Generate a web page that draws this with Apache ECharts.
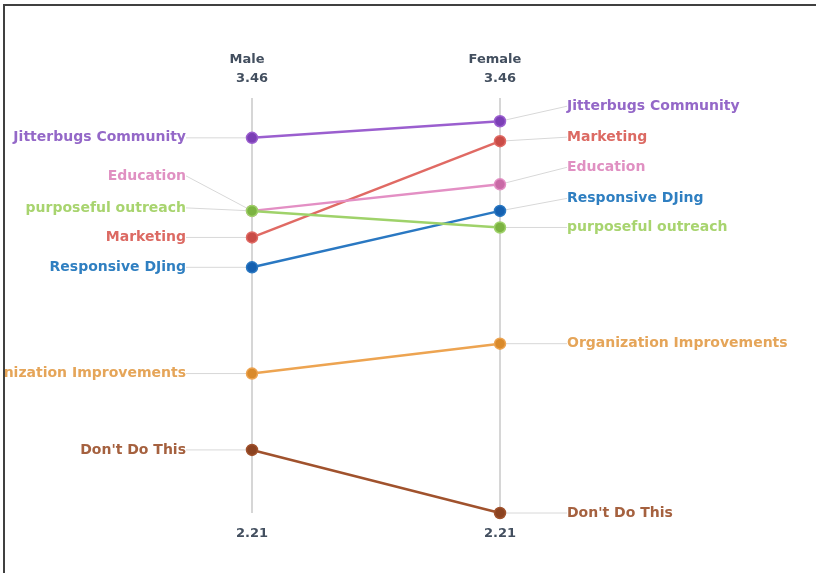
<!DOCTYPE html>
<html>
<head>
<meta charset="utf-8">
<script src="https://cdn.jsdelivr.net/npm/echarts@6/dist/echarts.min.js"></script>
<style>
  html, body { margin: 0; padding: 0; background: #fff; width: 816px; height: 573px; overflow: hidden; }
  #frame { position: absolute; left: 3px; top: 4px; width: 900px; height: 700px; border-left: 2px solid #404040; border-top: 2px solid #404040; }
  #chart { position: absolute; left: 5px; top: 0; width: 811px; height: 573px; }
</style>
</head>
<body>
<div id="frame"></div>
<div id="chart"></div>
<script>
// ---- data ----
var groups = ['Male', 'Female'];
var categories = ['Jitterbugs Community', 'Marketing', 'Education', 'Responsive DJing', 'purposeful outreach', 'Organization Improvements', "Don't Do This"];
var maleValues   = [3.34, 3.04, 3.12, 2.95, 3.12, 2.63, 2.40];
var femaleValues = [3.39, 3.33, 3.20, 3.12, 3.07, 2.72, 2.21];
var topTickLabels = ['3.46', '3.46'];
var bottomTickLabels = ['2.21', '2.21'];
var axisMax = 3.46;
var axisMin = 2.21;

// ---- styles ----
var lineColors  = ['#9b5fcf', '#e06a64', '#e38fc4', '#2a78c2', '#9fd26a', '#eda451', '#a0522d'];
var dotColors   = ['#7b3fb5', '#c94c47', '#c96aa6', '#1560b0', '#7cb342', '#d98a2b', '#8b4220'];
var labelColors = ['#9468c8', '#dc6a63', '#e090c2', '#2f7fc1', '#a8d46f', '#e5a559', '#a5613f'];
// label vertical nudges (px) to reproduce the reference label distribution
var labelNudge = {
  left:  { 'Education': -35, 'purposeful outreach': -3 },
  right: { 'Jitterbugs Community': -15, 'Marketing': -4, 'Education': -17, 'Responsive DJing': -12.5 }
};
var FONT = 'DejaVu Sans';
var axisTextColor = '#434f5f';

var series = categories.map(function (name, i) {
  return {
    type: 'line',
    name: name,
    data: [maleValues[i], femaleValues[i]],
    symbol: 'circle',
    symbolSize: 11,
    z: 2 + i,
    lineStyle: { color: lineColors[i], width: 2.5 },
    itemStyle: { color: dotColors[i], borderColor: lineColors[i], borderWidth: 1.5 },
    label: {
      show: true,
      formatter: name,
      color: labelColors[i],
      fontFamily: FONT,
      fontWeight: 'bold',
      fontSize: 14,
      padding: [0, 4]
    },
    labelLine: {
      show: true,
      length2: 0,
      lineStyle: { color: '#d8d8d8', width: 1 }
    },
    labelLayout: function (params) {
      var r = params.rect;
      var cx = r.x + r.width / 2;
      var cy = r.y + r.height / 2;
      var left = params.dataIndex === 0;
      var side = left ? 'left' : 'right';
      var nudge = labelNudge[side][name] || 0;
      return {
        x: left ? cx - 62 : cx + 63,
        y: cy + nudge,
        align: left ? 'right' : 'left',
        verticalAlign: 'middle'
      };
    },
    emphasis: { disabled: true }
  };
});

var chart = echarts.init(document.getElementById('chart'), null, { renderer: 'canvas' });
chart.setOption({
  animation: false,
  backgroundColor: 'transparent',
  grid: { left: 247, right: 316, top: 98, bottom: 60 },
  xAxis: [
    {
      type: 'category', data: groups, position: 'top', boundaryGap: false,
      axisLine: { show: false }, axisTick: { show: false },
      axisLabel: { margin: 32, color: axisTextColor, fontFamily: FONT, fontWeight: 'bold', fontSize: 13, padding: [0, 10, 0, 0] },
      splitLine: { show: true, lineStyle: { color: '#d6d6d6', width: 2 } }
    },
    {
      type: 'category', data: groups, position: 'top', boundaryGap: false,
      axisLine: { show: false }, axisTick: { show: false }, splitLine: { show: false },
      axisLabel: { margin: 13, color: axisTextColor, fontFamily: FONT, fontWeight: 'bold', fontSize: 13,
        formatter: function (v, idx) { return topTickLabels[idx]; } }
    },
    {
      type: 'category', data: groups, position: 'bottom', boundaryGap: false,
      axisLine: { show: false }, axisTick: { show: false }, splitLine: { show: false },
      axisLabel: { margin: 14, color: axisTextColor, fontFamily: FONT, fontWeight: 'bold', fontSize: 13,
        formatter: function (v, idx) { return bottomTickLabels[idx]; } }
    }
  ],
  yAxis: { type: 'value', min: axisMin, max: axisMax, show: false },
  series: series
});
</script>
</body>
</html>
